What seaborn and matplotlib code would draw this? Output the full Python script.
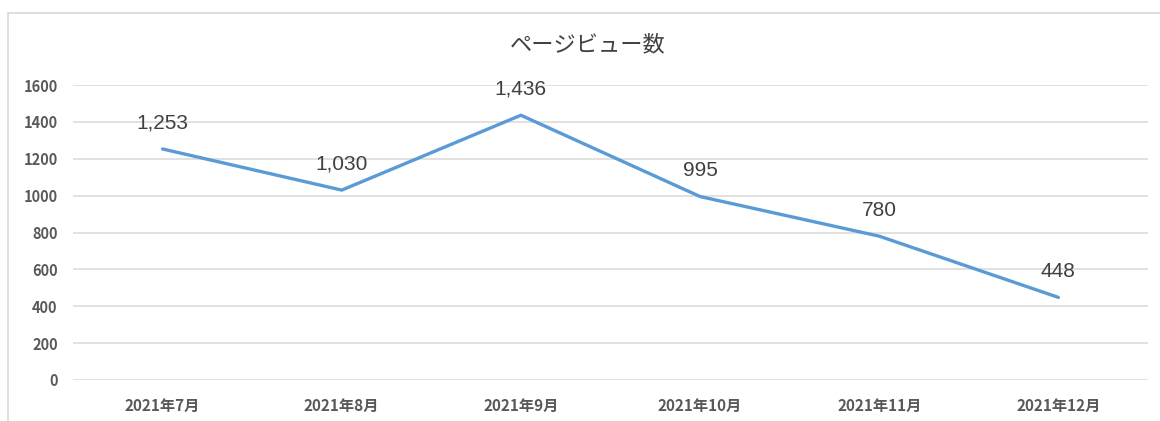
import matplotlib
matplotlib.use("Agg")
import matplotlib.pyplot as plt
import seaborn as sns
import pandas as pd
from matplotlib.patches import Rectangle

months = ["2021年7月", "2021年8月", "2021年9月", "2021年10月", "2021年11月", "2021年12月"]
page_views = [1253, 1030, 1436, 995, 780, 448]
y_ticks = [0, 200, 400, 600, 800, 1000, 1200, 1400, 1600]
title = "ページビュー数"

sns.set_theme(style="white")
plt.rcParams["font.family"] = ["Noto Sans CJK JP", "DejaVu Sans"]

df = pd.DataFrame({"month": months, "views": page_views})

fig = plt.figure(figsize=(11.6, 4.21), dpi=100)
ax = fig.add_axes([73 / 1160, 1 - 380 / 421, (1148 - 73) / 1160, (380 - 85) / 421])

sns.lineplot(data=df, x="month", y="views", ax=ax, color="#5B9BD5",
             linewidth=2.4, sort=False)

ax.set_xlim(-0.5, len(months) - 0.5)
ax.set_ylim(0, 1600)
ax.set_yticks(y_ticks)
ax.yaxis.grid(True, color="#D9D9D9", linewidth=1.1)
ax.xaxis.grid(False)
for s in ax.spines.values():
    s.set_visible(False)
ax.set_xlabel("")
ax.set_ylabel("")
ax.tick_params(axis="both", length=0, colors="#595959")
ax.tick_params(axis="y", pad=11, labelsize=10.5)
ax.tick_params(axis="x", pad=13, labelsize=11)
for lbl in ax.get_xticklabels() + ax.get_yticklabels():
    lbl.set_fontweight("bold")

for i, v in enumerate(page_views):
    ax.annotate(f"{v:,}", (i, v), xytext=(0, 12), textcoords="offset points",
                ha="center", va="bottom", fontsize=15, color="#404040",
                family=["Liberation Sans", "DejaVu Sans"])

fig.text(0.507, 1 - 45 / 421, title, ha="center", va="center",
         fontsize=16, color="#404040")

# chart frame
fig.patches.append(Rectangle((8 / 1160, -0.1), 1.2, 1 - 13 / 421 + 0.1,
                             transform=fig.transFigure, fill=False,
                             edgecolor="#D9D9D9", linewidth=1.2))

fig.savefig("out.png", dpi=100)
